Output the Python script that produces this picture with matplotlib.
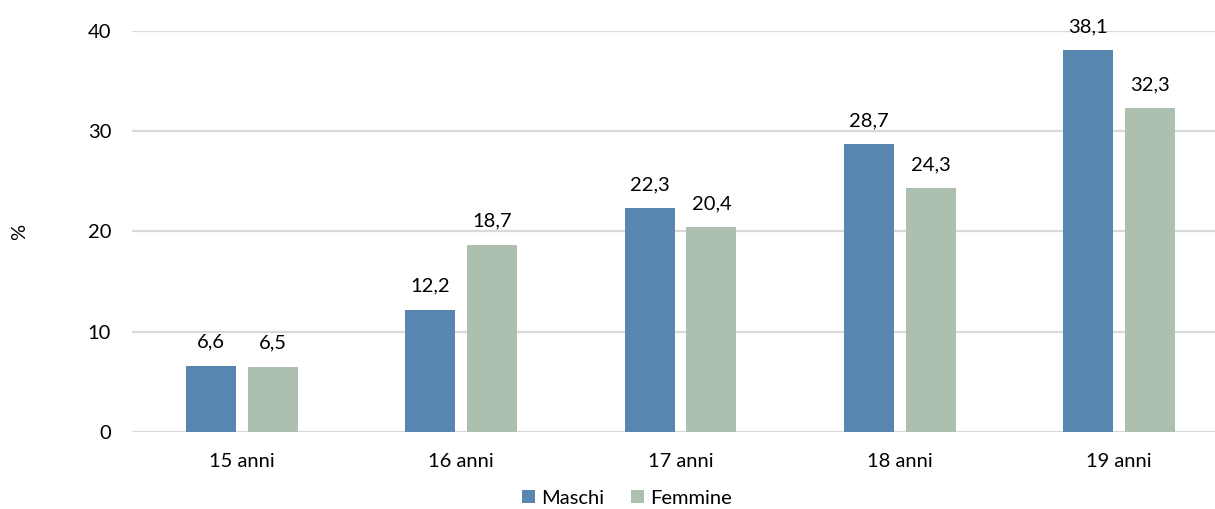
import numpy as np
import matplotlib.pyplot as plt

plt.rcParams['font.family'] = ['Lato', 'DejaVu Sans']

# Data
categories = ["15 anni", "16 anni", "17 anni", "18 anni", "19 anni"]
maschi = [6.6, 12.2, 22.3, 28.7, 38.1]
femmine = [6.5, 18.7, 20.4, 24.3, 32.3]
yticks = [0, 10, 20, 30, 40]

col_m = "#5986B1"
col_f = "#ADC0B0"
fs = 14.5

fig = plt.figure(figsize=(12.15, 5.09), dpi=100)
# plot area runs a little past the right edge of the picture
ax = fig.add_axes([132 / 1215, 1 - 432 / 509, 1097 / 1215, 401 / 509])

x = np.arange(len(categories))
w = 0.228
off = 0.141

bm = ax.bar(x - off, maschi, w, color=col_m, label="Maschi", zorder=3)
bf = ax.bar(x + off, femmine, w, color=col_f, label="Femmine", zorder=3)

for bars, vals in ((bm, maschi), (bf, femmine)):
    for b, v in zip(bars, vals):
        ax.annotate(f"{v:.1f}".replace(".", ","),
                    (b.get_x() + b.get_width() / 2, v),
                    xytext=(0, 13), textcoords="offset points",
                    ha="center", va="baseline", fontsize=fs, color="#000000")

ax.set_xlim(-0.5, len(categories) - 0.5)
ax.set_ylim(0, 40)
ax.set_yticks(yticks)
ax.set_xticks(x)
ax.set_xticklabels(categories)
ax.tick_params(axis="both", length=0, labelsize=fs, colors="#000000")
ax.tick_params(axis="x", pad=15)
ax.tick_params(axis="y", pad=15)
ax.yaxis.grid(True, color="#D9D9D9", linewidth=1.6, zorder=0)
ax.set_axisbelow(True)
for s in ax.spines.values():
    s.set_visible(False)

fig.text(20 / 1215, 1 - 232 / 509, "%", rotation=90, ha="center", va="center", fontsize=fs)

handles = [bm, bf]
fig.legend(handles, ["Maschi", "Femmine"], loc="center", bbox_to_anchor=(627 / 1215, 1 - 498 / 509),
           ncol=2, frameon=False, fontsize=fs, handlelength=0.65, handleheight=0.65,
           handletextpad=0.3, columnspacing=1.3)

fig.savefig("out.png", dpi=100)
